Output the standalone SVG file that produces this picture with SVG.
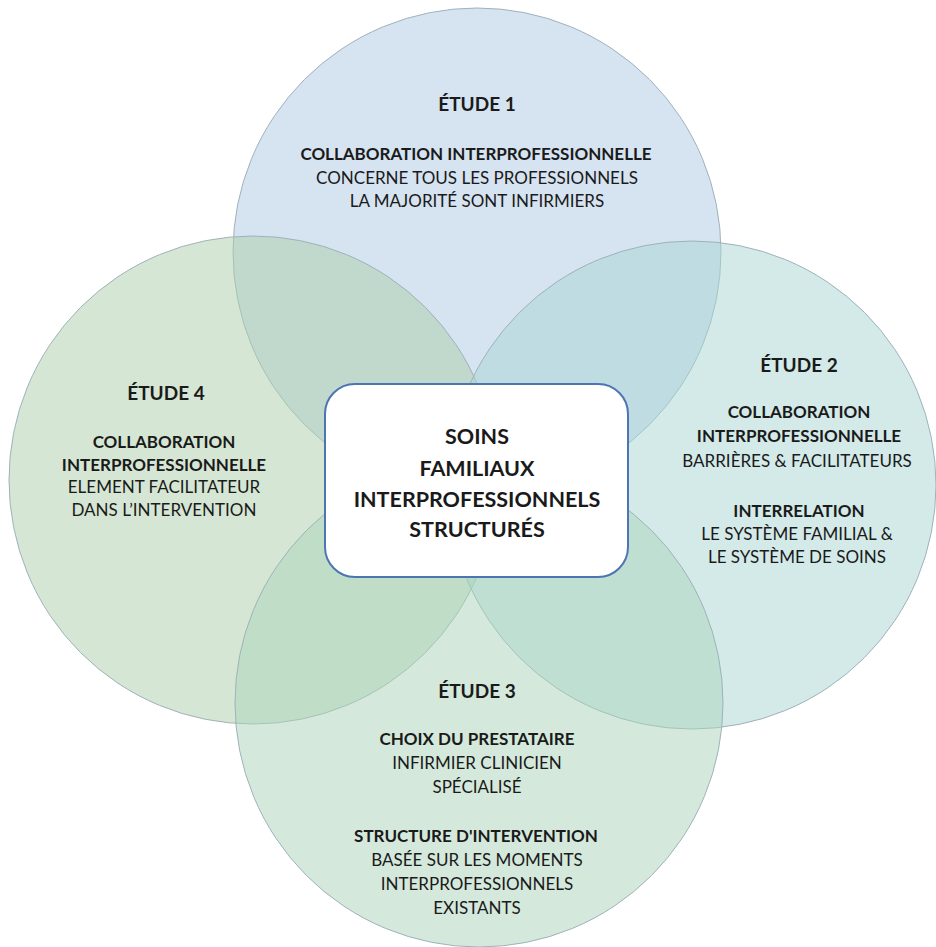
<svg xmlns="http://www.w3.org/2000/svg" width="936" height="947" viewBox="0 0 936 947">
  <style>
    .ring { stroke: #9fb2bb; stroke-width: 1; fill-opacity: 0.5; }
    .t { font-family: Lato, "Open Sans", "Liberation Sans", sans-serif; fill: #1a1a1a; text-anchor: middle; }
    .h { font-size: 19px; font-weight: 700; }
    .b { font-size: 17px; font-weight: 700; }
    .r { font-size: 17px; font-weight: 400; }
    .c { font-size: 21.5px; font-weight: 700; }
  </style>
  <rect width="936" height="947" fill="#ffffff"/>

  <!-- overlapping study circles -->
  <g id="etude1">
    <circle class="ring" cx="477" cy="252" r="244" fill="#aec7e3"/>
  </g>
  <g id="etude4">
    <circle class="ring" cx="253" cy="480" r="244" fill="#abcfa9"/>
  </g>
  <g id="etude2">
    <circle class="ring" cx="692" cy="485" r="244" fill="#a7d6d4"/>
  </g>
  <g id="etude3">
    <circle class="ring" cx="479" cy="703" r="244" fill="#a9d3b9"/>
  </g>

  <!-- labels of each study -->
  <g id="etude1-text" class="t">
    <text class="h" x="477" y="111">ÉTUDE 1</text>
    <text class="b" x="476" y="160">COLLABORATION INTERPROFESSIONNELLE</text>
    <text class="r" x="477" y="184">CONCERNE TOUS LES PROFESSIONNELS</text>
    <text class="r" x="477" y="207">LA MAJORITÉ SONT INFIRMIERS</text>
  </g>
  <g id="etude4-text" class="t">
    <text class="h" x="166" y="400">ÉTUDE 4</text>
    <text class="b" x="164" y="448">COLLABORATION</text>
    <text class="b" x="164" y="471">INTERPROFESSIONNELLE</text>
    <text class="r" x="164" y="493">ELEMENT FACILITATEUR</text>
    <text class="r" x="164" y="516">DANS L’INTERVENTION</text>
  </g>
  <g id="etude2-text" class="t">
    <text class="h" x="799" y="372">ÉTUDE 2</text>
    <text class="b" x="799" y="418">COLLABORATION</text>
    <text class="b" x="799" y="442">INTERPROFESSIONNELLE</text>
    <text class="r" x="797" y="467">BARRIÈRES &amp; FACILITATEURS</text>
    <text class="b" x="799" y="517">INTERRELATION</text>
    <text class="r" x="797" y="540">LE SYSTÈME FAMILIAL &amp;</text>
    <text class="r" x="797" y="563">LE SYSTÈME DE SOINS</text>
  </g>
  <g id="etude3-text" class="t">
    <text class="h" x="477" y="698">ÉTUDE 3</text>
    <text class="b" x="477" y="745">CHOIX DU PRESTATAIRE</text>
    <text class="r" x="477" y="769">INFIRMIER CLINICIEN</text>
    <text class="r" x="477" y="793">SPÉCIALISÉ</text>
    <text class="b" x="476" y="842">STRUCTURE D'INTERVENTION</text>
    <text class="r" x="477" y="866">BASÉE SUR LES MOMENTS</text>
    <text class="r" x="477" y="890">INTERPROFESSIONNELS</text>
    <text class="r" x="477" y="914">EXISTANTS</text>
  </g>

  <!-- central box -->
  <g id="centre">
    <rect x="325" y="384" width="303" height="193" rx="30" ry="30" fill="#ffffff" stroke="#4d74b3" stroke-width="2"/>
    <g class="t">
      <text class="c" x="477" y="444">SOINS</text>
      <text class="c" x="477" y="476">FAMILIAUX</text>
      <text class="c" x="477" y="507">INTERPROFESSIONNELS</text>
      <text class="c" x="477" y="537">STRUCTURÉS</text>
    </g>
  </g>

  <g id="connectors"/>
</svg>
